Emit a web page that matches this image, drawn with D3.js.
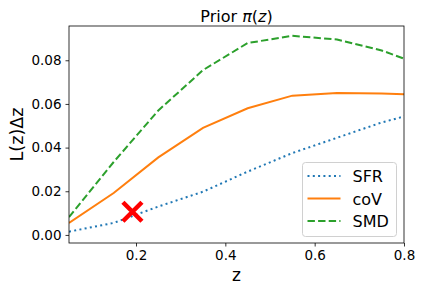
<!DOCTYPE html>
<html>
<head>
<meta charset="utf-8">
<script src="https://cdn.jsdelivr.net/npm/d3@7"></script>
<style>
  body { margin: 0; background: #fff; }
  text { font-family: "DejaVu Sans", sans-serif; fill: #000; }
</style>
</head>
<body>
<div id="chart"></div>
<script>
// redshift bins (centres)
const zBins = [0.05, 0.15, 0.25, 0.35, 0.45, 0.55, 0.65, 0.75, 0.85];
const sfr = [0.0015, 0.0055, 0.013, 0.0198, 0.029, 0.0375, 0.0445, 0.0515, 0.057];
const cov = [0.0055, 0.0192, 0.0355, 0.049, 0.058, 0.0638, 0.065, 0.0648, 0.064];
const smd = [0.0082, 0.0334, 0.057, 0.0755, 0.0879, 0.0912, 0.0895, 0.0845, 0.077];
const seriesNames = ["SFR", "coV", "SMD"];
const xTicks = [0.2, 0.4, 0.6, 0.8];
const yTicks = [0.0, 0.02, 0.04, 0.06, 0.08];
const marker = { z: 0.192, v: 0.0106 };

const width = 422, height = 291;
const margin = { top: 26, right: 18, bottom: 48, left: 69 };

const svg = d3.select("#chart").append("svg")
  .attr("width", width)
  .attr("height", height);

const x = d3.scaleLinear().domain([0.05, 0.8]).range([margin.left, width - margin.right]);
const y = d3.scaleLinear().domain([-0.0037, 0.0957]).range([height - margin.bottom, margin.top]);

svg.append("defs").append("clipPath").attr("id", "plot-clip")
  .append("rect")
  .attr("x", margin.left).attr("y", margin.top)
  .attr("width", x.range()[1] - x.range()[0])
  .attr("height", y.range()[0] - y.range()[1]);

const series = [
  { name: seriesNames[0], values: sfr, color: "#1f77b4", dash: "2,3.3" },
  { name: seriesNames[1], values: cov, color: "#ff7f0e", dash: null },
  { name: seriesNames[2], values: smd, color: "#2ca02c", dash: "7.4,3.2" }
];

const line = d3.line()
  .x((d, i) => x(zBins[i]))
  .y(d => y(d));

const plot = svg.append("g").attr("clip-path", "url(#plot-clip)");
series.forEach(s => {
  plot.append("path")
    .datum(s.values)
    .attr("d", line)
    .attr("fill", "none")
    .attr("stroke", s.color)
    .attr("stroke-width", 2)
    .attr("stroke-dasharray", s.dash);
});

// red cross marker
const mx = x(marker.z), my = y(marker.v), r = 9.5;
svg.append("path")
  .attr("d", `M${mx - r},${my - r}L${mx + r},${my + r}M${mx - r},${my + r}L${mx + r},${my - r}`)
  .attr("stroke", "#ff0000")
  .attr("stroke-width", 4.5)
  .attr("fill", "none");

// axes
const xAxis = svg.append("g")
  .attr("transform", `translate(0,${height - margin.bottom})`)
  .call(d3.axisBottom(x).tickValues(xTicks).tickFormat(d3.format(".1f")).tickSizeOuter(0).tickSize(3.5).tickPadding(4));
const yAxis = svg.append("g")
  .attr("transform", `translate(${margin.left},0)`)
  .call(d3.axisLeft(y).tickValues(yTicks).tickFormat(d3.format(".2f")).tickSizeOuter(0).tickSize(3.5).tickPadding(4));

[xAxis, yAxis].forEach(a => {
  a.select(".domain").remove();
  a.selectAll("line").attr("stroke", "#000").attr("stroke-width", 0.8);
  a.selectAll("text").style("font-size", "13.5px").attr("font-family", "DejaVu Sans, sans-serif");
});

// frame
svg.append("rect")
  .attr("x", margin.left).attr("y", margin.top)
  .attr("width", x.range()[1] - x.range()[0])
  .attr("height", y.range()[0] - y.range()[1])
  .attr("fill", "none")
  .attr("stroke", "#000")
  .attr("stroke-width", 0.8);

// labels
const title = svg.append("text")
  .attr("x", (x.range()[0] + x.range()[1]) / 2)
  .attr("y", 21.5)
  .attr("text-anchor", "middle")
  .style("font-size", "16px");
title.append("tspan").text("Prior ");
title.append("tspan").attr("font-style", "italic").text("π");
title.append("tspan").text("(");
title.append("tspan").attr("font-style", "italic").text("z");
title.append("tspan").text(")");

svg.append("text")
  .attr("x", (x.range()[0] + x.range()[1]) / 2)
  .attr("y", 281)
  .attr("text-anchor", "middle")
  .style("font-size", "17px")
  .text("z");

svg.append("text")
  .attr("transform", `translate(23,${(y.range()[0] + y.range()[1]) / 2}) rotate(-90)`)
  .attr("text-anchor", "middle")
  .style("font-size", "17.5px")
  .text("L(z)Δz");

// legend
const lg = svg.append("g").attr("transform", "translate(302.5,162.5)");
lg.append("rect")
  .attr("width", 94).attr("height", 74)
  .attr("rx", 3)
  .attr("fill", "#fff").attr("fill-opacity", 0.8)
  .attr("stroke", "#d0d0d0").attr("stroke-width", 1);
series.forEach((s, i) => {
  const yy = 13.5 + i * 22.5;
  lg.append("line")
    .attr("x1", 5).attr("x2", 38)
    .attr("y1", yy).attr("y2", yy)
    .attr("stroke", s.color).attr("stroke-width", 2)
    .attr("stroke-dasharray", s.dash);
  lg.append("text")
    .attr("x", 50).attr("y", yy + 6)
    .style("font-size", "16px")
    .text(s.name);
});
</script>
</body>
</html>
